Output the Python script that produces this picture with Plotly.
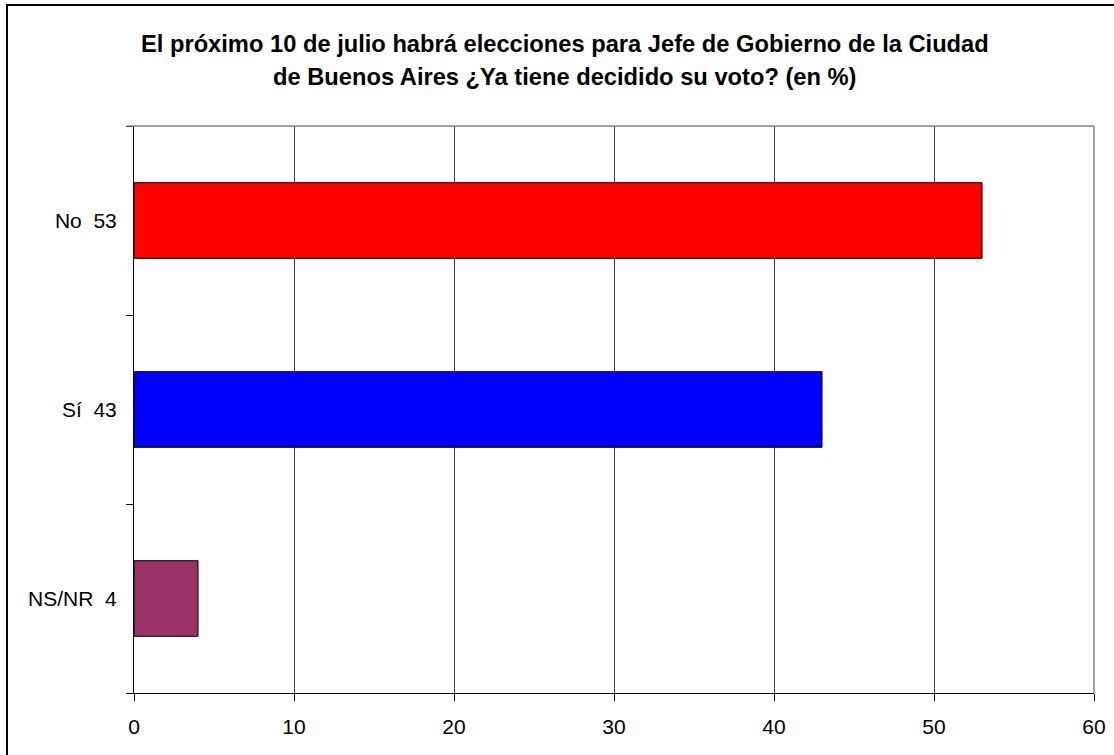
import plotly.graph_objects as go

categories = ["NS/NR  4", "Sí  43", "No  53"]
values = [4, 43, 53]
colors = ["#993366", "#0000FF", "#FF0000"]
x_ticks = [0, 10, 20, 30, 40, 50, 60]

title_line1 = "El próximo 10 de julio habrá elecciones para Jefe de Gobierno de la Ciudad"
title_line2 = "de Buenos Aires ¿Ya tiene decidido su voto? (en %)"

W, H = 1114, 755
L, R, T, B = 134, 20, 126, 62
pw, ph = W - L - R, H - T - B

fig = go.Figure()
fig.add_trace(go.Bar(
    y=categories, x=values, orientation="h",
    marker=dict(color=colors, line=dict(color="#000000", width=1)),
    width=0.4, hoverinfo="skip",
))

font = "Liberation Sans, Arial, sans-serif"
fig.update_layout(
    width=W, height=H,
    margin=dict(l=L, r=R, t=T, b=B, autoexpand=False),
    paper_bgcolor="white", plot_bgcolor="white",
    showlegend=False,
    font=dict(family=font, size=21, color="#000000"),
    xaxis=dict(
        range=[0, 60], tickvals=x_ticks, ticktext=[str(v) for v in x_ticks],
        showgrid=True, gridcolor="#404040", gridwidth=1,
        showline=True, linecolor="#000000", linewidth=1,
        ticks="outside", ticklen=7, tickcolor="#000000",
        zeroline=False, mirror=False, fixedrange=True,
        tickfont=dict(size=21), ticklabelstandoff=8,
    ),
    yaxis=dict(
        type="category", categoryorder="array", categoryarray=categories,
        showgrid=False, showline=True, linecolor="#000000", linewidth=1,
        ticks="outside", tickson="boundaries", ticklen=7, tickcolor="#000000",
        zeroline=False, fixedrange=True, tickfont=dict(size=21),
        ticklabelstandoff=12,
    ),
)

def px_x(p):
    return (p - L) / pw

def px_y(p):
    return (H - B - p) / ph

shapes = [
    dict(type="line", xref="paper", yref="paper", x0=px_x(127), x1=1, y0=1, y1=1,
         line=dict(color="#808080", width=1.5)),
    dict(type="line", xref="paper", yref="paper", x0=1, x1=1, y0=0, y1=1,
         line=dict(color="#808080", width=1.5)),
    dict(type="rect", xref="paper", yref="paper",
         x0=px_x(7), x1=px_x(1125), y0=px_y(5), y1=px_y(770),
         line=dict(color="#000000", width=2), fillcolor="rgba(0,0,0,0)", layer="above"),
]
fig.update_layout(shapes=shapes)

cx = px_x(565)
fig.add_annotation(text="<b>" + title_line1 + "</b>", xref="paper", yref="paper",
                   x=cx, y=px_y(44), showarrow=False, xanchor="center", yanchor="middle",
                   font=dict(size=23.7, family=font, color="#000000"))
fig.add_annotation(text="<b>" + title_line2 + "</b>", xref="paper", yref="paper",
                   x=cx, y=px_y(77), showarrow=False, xanchor="center", yanchor="middle",
                   font=dict(size=23.7, family=font, color="#000000"))

fig.write_html("out.html", config={"displayModeBar": False},
               post_script="document.body.style.margin='0';")
